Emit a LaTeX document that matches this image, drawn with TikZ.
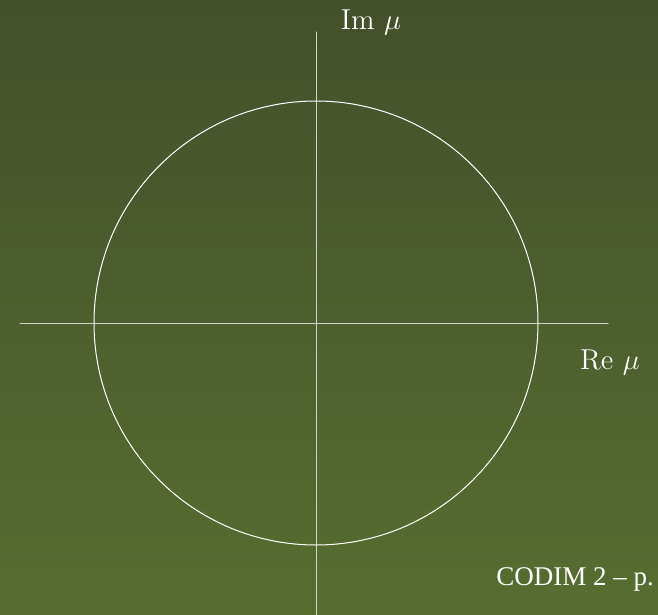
\documentclass[tikz,border=0pt]{standalone}
\usepackage{fontspec}
\newfontfamily\slidefont[Ligatures=TeX]{Liberation Serif}
\definecolor{bgtop}{HTML}{43502B}
\definecolor{bgbot}{HTML}{576D30}
\definecolor{axisgray}{HTML}{D0D4C8}
\begin{document}
\begin{tikzpicture}[x=0.5pt, y=-0.5pt, line join=round, line cap=round,
  axis/.style={draw=axisgray, line width=0.5pt},
  lab/.style={text=white, font=\Large, inner sep=0pt}]
			\def\cx{316} \def\cy{323} \def\r{222}
			\useasboundingbox (0,0) rectangle (658,615);
			\shade[top color=bgtop, bottom color=bgbot] (0,0) rectangle (658,615);
			\coordinate (O) at (\cx,\cy);
			\coordinate (xl) at (20,\cy); \coordinate (xr) at (608,\cy);
			\coordinate (yt) at (\cx,32); \coordinate (yb) at (\cx,615);
			\draw[axis] (xl)--(xr) (yt)--(yb);
			\draw[white, line width=0.5pt] (O) circle (\r);
			\node[lab] (im) at (371,22) {Im $\mu$};
			\node[lab] (re) at (610,362) {Re $\mu$};
			\node[text=white, font=\slidefont\fontsize{13.5}{16}\selectfont, anchor=base west, inner sep=0pt] (foot) at (496,585) {CODIM 2 -- p.};
		\end{tikzpicture}
\end{document}
